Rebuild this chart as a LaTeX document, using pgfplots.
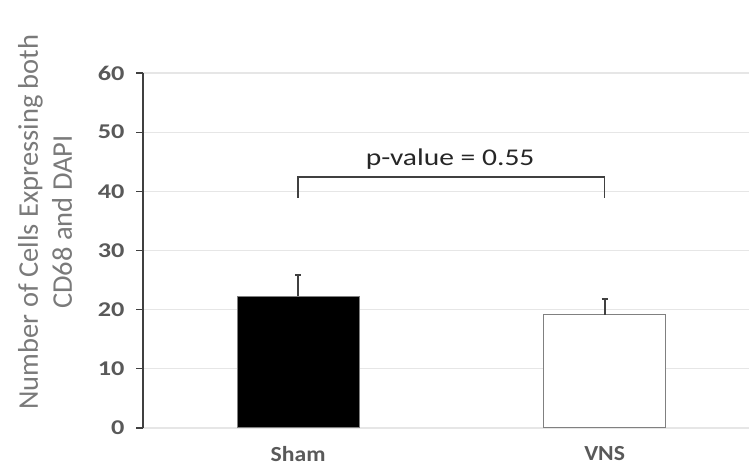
\documentclass[border=0pt]{standalone}
\usepackage{pgfplots}
\pgfplotsset{compat=1.18}
\usepackage{graphicx}
\usepackage{fontspec}
\setmainfont{Carlito}
\definecolor{tickgray}{HTML}{595959}
\definecolor{labgray}{HTML}{7A7A7A}
\definecolor{axgray}{HTML}{404040}
\definecolor{gridgray}{HTML}{E6E6E6}
\definecolor{edgegray}{HTML}{808080}
\begin{document}
\begin{tikzpicture}[x=1pt,y=1pt]
\path[use as bounding box] (0,0) rectangle (749,468);
\begin{axis}[
  at={(143pt,40pt)}, anchor=south west,
  scale only axis, width=606pt, height=355pt,
  xmin=-0.506, xmax=1.471, ymin=0, ymax=60,
  axis y line=left, axis x line=bottom,
  axis line style={-},
  x axis line style={draw=none},
  y axis line style={draw=axgray, line width=1.2pt},
  ytick={0,10,...,60},
  xtick={0,1}, xticklabels={\scalebox{1.1}[1]{Sham},\scalebox{1.1}[1]{VNS}},
  major x tick style={draw=none},
  tick align=outside,
  major tick length=7pt,
  major y tick style={draw=axgray, line width=1.2pt},
  ymajorgrids, grid style={draw=gridgray, line width=1.2pt},
  /pgf/number format/assume math mode=true,
  yticklabel={\scalebox{1.25}[1]{\pgfmathprintnumber{\tick}}},
  yticklabel style={font=\bfseries\fontsize{21}{21}\selectfont, text=tickgray, xshift=-8pt},
  xticklabel style={font=\bfseries\fontsize{21.5}{21.5}\selectfont, text=tickgray, yshift=-10pt, inner sep=1pt},
  clip=false,
]
\addplot[ybar, bar width=122pt, fill=black, draw=edgegray, line width=1pt,
  error bars/.cd, y dir=plus, y explicit,
  error bar style={draw=axgray, line width=2.2pt},
  error mark options={rotate=90, mark size=3pt, line width=2.2pt, draw=axgray}]
  coordinates {(0,22.3) +- (0,3.5)};
\addplot[ybar, bar width=122pt, fill=white, draw=edgegray, line width=1pt,
  error bars/.cd, y dir=plus, y explicit,
  error bar style={draw=axgray, line width=2.2pt},
  error mark options={rotate=90, mark size=3pt, line width=2.2pt, draw=axgray}]
  coordinates {(1,19.1) +- (0,2.7)};
\draw[axgray, line width=1.5pt] (axis cs:0,38.9) -- (axis cs:0,42.4) -- (axis cs:1,42.4) -- (axis cs:1,38.9);
\node[anchor=base, text=black!85, font=\fontsize{24}{24}\selectfont, inner sep=0pt] at (axis cs:0.496,44.3) {\scalebox{1.23}[1]{p-value = 0.55}};
\end{axis}
\node[rotate=90, align=center, text=labgray, font=\fontsize{28.5}{34}\selectfont] at (45pt,246pt) {Number of Cells Expressing both\\CD68 and DAPI};
\end{tikzpicture}
\end{document}
